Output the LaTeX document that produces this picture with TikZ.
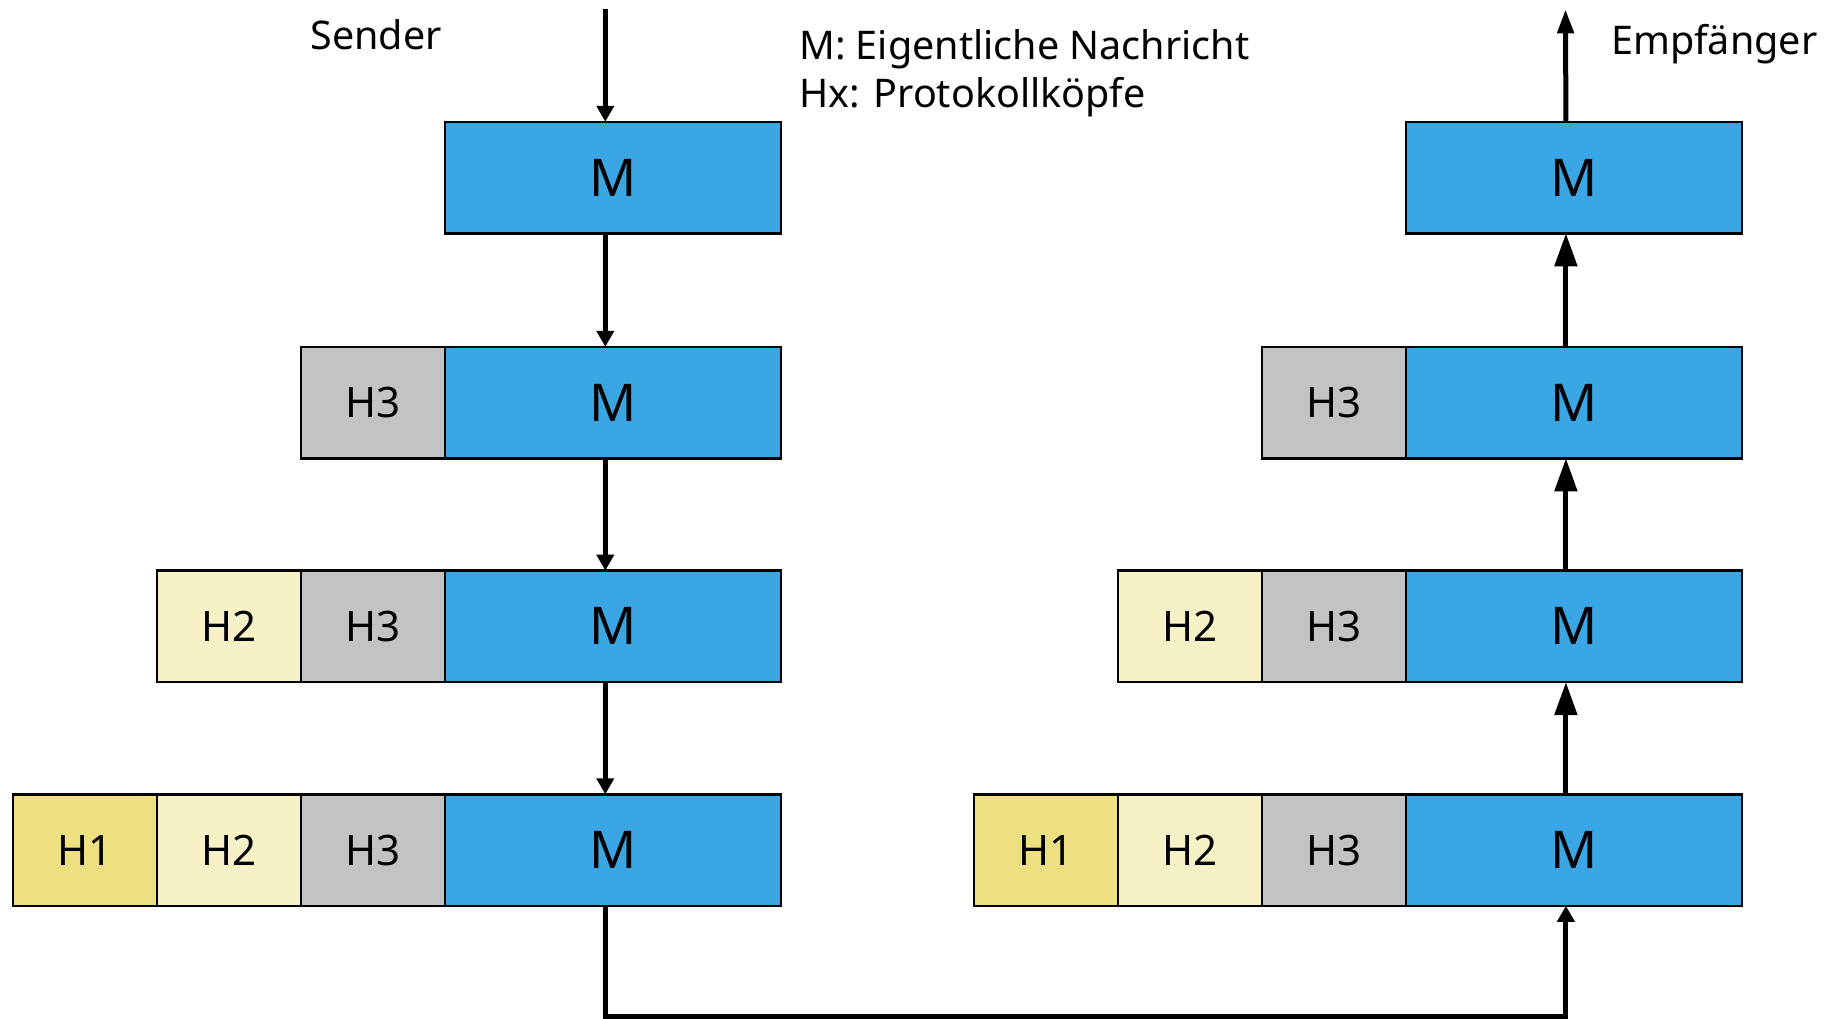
\documentclass[tikz,border=0pt]{standalone}
\usepackage{fontspec}
\setmainfont{Noto Sans}
\usetikzlibrary{arrows.meta}
\definecolor{msgblue}{RGB}{58,166,227}
\definecolor{hthree}{RGB}{195,195,195}
\definecolor{htwo}{RGB}{246,241,198}
\definecolor{hone}{RGB}{236,224,128}
\begin{document}
\begin{tikzpicture}[x=1pt,y=-1pt,
  cell/.style={draw=black, line width=2.5pt, minimum height=111.5pt, inner sep=0pt, outer sep=0pt, text=black},
  hd/.style={cell, minimum width=144pt, font=\fontsize{42}{48}\selectfont},
  msg/.style={cell, fill=msgblue, minimum width=336pt, font=\fontsize{52}{56}\selectfont, anchor=north west},
  lbl/.style={font=\fontsize{39.5}{46}\selectfont, inner sep=0pt, anchor=base west},
  flow/.style={line width=5pt},
  arr/.style={flow, -{Triangle[width=17pt,length=16pt]}},
  toparr/.style={flow, -{Triangle[width=16pt,length=24pt]}},
  bigarr/.style={flow, -{Triangle[width=22pt,length=33pt]}}]
\useasboundingbox (0,0) rectangle (1837,1018);

% sender side
\node[msg] (sM1) at (445,121.8) {M};
\node[msg] (sM2) at (445,346.8) {M};
\node[msg] (sM3) at (445,570.6) {M};
\node[msg] (sM4) at (445,794.3) {M};
\node[hd, fill=hthree, anchor=north east] (sH32) at (sM2.north west) {H3};
\node[hd, fill=hthree, anchor=north east] (sH33) at (sM3.north west) {H3};
\node[hd, fill=htwo, anchor=north east] (sH23) at (sH33.north west) {H2};
\node[hd, fill=hthree, anchor=north east] (sH34) at (sM4.north west) {H3};
\node[hd, fill=htwo, anchor=north east] (sH24) at (sH34.north west) {H2};
\node[hd, fill=hone, anchor=north east] (sH14) at (sH24.north west) {H1};

% receiver side
\node[msg] (rM1) at (1405.9,121.8) {M};
\node[msg] (rM2) at (1405.9,346.8) {M};
\node[msg] (rM3) at (1405.9,570.6) {M};
\node[msg] (rM4) at (1405.9,794.3) {M};
\node[hd, fill=hthree, anchor=north east] (rH32) at (rM2.north west) {H3};
\node[hd, fill=hthree, anchor=north east] (rH33) at (rM3.north west) {H3};
\node[hd, fill=htwo, anchor=north east] (rH23) at (rH33.north west) {H2};
\node[hd, fill=hthree, anchor=north east] (rH34) at (rM4.north west) {H3};
\node[hd, fill=htwo, anchor=north east] (rH24) at (rH34.north west) {H2};
\node[hd, fill=hone, anchor=north east] (rH14) at (rH24.north west) {H1};

% labels
\node[lbl, anchor=base] (snd) at (376,49) {Sender};
\node[lbl] (leg1) at (799,59.5) {M: Eigentliche Nachricht};
\node[lbl] (leg2) at (799,107.5) {Hx: Protokollköpfe};
\node[lbl] (rcv) at (1611,54) {Empfänger};

% free ends
\coordinate (src) at (605.3,9.4);
\coordinate (dst) at (1565.5,9.4);

% sender: downward flow
\draw[arr] (src) -- ([xshift=-7.7pt]sM1.north);
\draw[arr] ([xshift=-7.7pt]sM1.south) -- ([xshift=-7.7pt]sM2.north);
\draw[arr] ([xshift=-7.7pt]sM2.south) -- ([xshift=-7.7pt]sM3.north);
\draw[arr] ([xshift=-7.7pt]sM3.south) -- ([xshift=-7.7pt]sM4.north);

% transmission line
\draw[arr] ([xshift=-7.7pt]sM4.south) -- ++(0,110.5) -| ([xshift=-8pt]rM4.south);

% receiver: upward flow
\draw[bigarr] ([xshift=-8pt]rM4.north) -- ([xshift=-8pt]rM3.south);
\draw[bigarr] ([xshift=-8pt]rM3.north) -- ([xshift=-8pt]rM2.south);
\draw[bigarr] ([xshift=-8pt]rM2.north) -- ([xshift=-8pt]rM1.south);
\draw[toparr] ([xshift=-8pt]rM1.north) -- (dst);
\end{tikzpicture}
\end{document}
